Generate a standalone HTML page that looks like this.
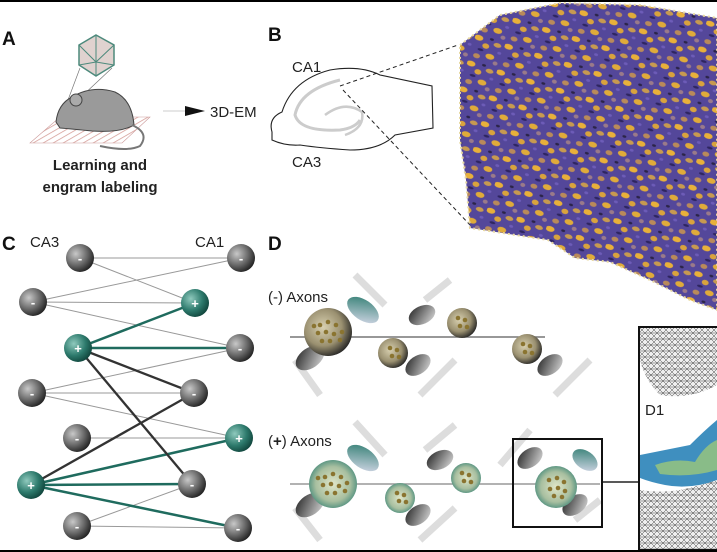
<!DOCTYPE html>
<html><head><meta charset="utf-8"><style>
body{margin:0;background:#fff;}
svg{display:block;font-family:"Liberation Sans",sans-serif;}
</style></head><body>
<svg width="717" height="552" viewBox="0 0 717 552" xmlns="http://www.w3.org/2000/svg">
<defs>
<radialGradient id="gn" cx="35%" cy="35%" r="70%"><stop offset="0" stop-color="#c8c8c8"/><stop offset="0.6" stop-color="#666"/><stop offset="1" stop-color="#222"/></radialGradient>
<radialGradient id="gp" cx="35%" cy="35%" r="70%"><stop offset="0" stop-color="#8fc9bd"/><stop offset="0.6" stop-color="#2d7a6c"/><stop offset="1" stop-color="#11463d"/></radialGradient>
<radialGradient id="bn" cx="40%" cy="40%" r="65%"><stop offset="0" stop-color="#d8d0b0"/><stop offset="0.6" stop-color="#9a9070"/><stop offset="1" stop-color="#222"/></radialGradient>
<radialGradient id="bp" cx="50%" cy="50%" r="60%"><stop offset="0" stop-color="#e0e6c8"/><stop offset="0.6" stop-color="#a8bfa0"/><stop offset="1" stop-color="#2b7c70"/></radialGradient>
<linearGradient id="sp" x1="0" y1="0" x2="1" y2="1"><stop offset="0" stop-color="#222"/><stop offset="1" stop-color="#ddd"/></linearGradient>
<linearGradient id="st" x1="0" y1="0" x2="1" y2="1"><stop offset="0" stop-color="#2a7a6d"/><stop offset="1" stop-color="#dde"/></linearGradient>
<pattern id="vol" width="31" height="27" patternUnits="userSpaceOnUse" patternTransform="rotate(17)">
<rect width="31" height="27" fill="#54479a"/>
<ellipse cx="4" cy="4" rx="4.5" ry="2.8" fill="#e8b03a"/>
<ellipse cx="13" cy="10" rx="3.5" ry="2.6" fill="#d9a33d"/>
<ellipse cx="24" cy="6" rx="4" ry="2.2" fill="#c79a50"/>
<ellipse cx="20" cy="19" rx="4.5" ry="2.8" fill="#e0ab3a"/>
<ellipse cx="7" cy="22" rx="3.5" ry="2.4" fill="#b98a5a"/>
<ellipse cx="9" cy="15" rx="3" ry="1.3" fill="#2e2560"/>
<ellipse cx="27" cy="24" rx="2.5" ry="2" fill="#9a7a8a"/>
<ellipse cx="17" cy="2" rx="2" ry="1.2" fill="#2b2448"/>
<ellipse cx="28" cy="13" rx="2" ry="1.4" fill="#6d5cb8"/>
</pattern>
<pattern id="mesh" width="6" height="6" patternUnits="userSpaceOnUse">
<rect width="6" height="6" fill="#eee"/><path d="M0 0L6 6M6 0L0 6M0 3H6" stroke="#444" stroke-width="0.5"/>
</pattern>
<pattern id="hatch" width="5" height="5" patternUnits="userSpaceOnUse" patternTransform="rotate(60)">
<rect width="5" height="5" fill="#fff"/><line x1="0" y1="0" x2="0" y2="5" stroke="#d49a94" stroke-width="1.5"/>
</pattern>
</defs>
<line x1="0" y1="1" x2="717" y2="1" stroke="#000" stroke-width="2"/>
<line x1="0" y1="551" x2="717" y2="551" stroke="#000" stroke-width="2"/>

<g font-weight="bold" font-size="19" fill="#111">
<text x="2" y="45">A</text><text x="268" y="41">B</text><text x="2" y="250">C</text><text x="268" y="250">D</text>
</g>

<polygon points="96,35 114,45 114,65 96,76 79,65 79,45" fill="#e0d2cf" stroke="#4d8a7c" stroke-width="1.5"/>
<path d="M79,45L96,62L114,45M96,35L96,62M79,65L96,62L114,65M96,76L96,62" stroke="#4d8a7c" stroke-width="1" fill="none"/>
<line x1="80" y1="68" x2="68" y2="100" stroke="#777" stroke-width="0.7"/>
<line x1="112" y1="68" x2="80" y2="98" stroke="#777" stroke-width="0.7"/>
<polygon points="30,143 60,117 150,117 122,143" fill="url(#hatch)" stroke="#c99" stroke-width="0.6"/>
<path d="M56,122 Q58,104 72,97 Q92,85 115,92 Q132,100 134,125 Q120,133 92,131 Q72,129 60,128 Z" fill="#9a9a9a" stroke="#444"/>
<circle cx="76" cy="100" r="6" fill="#aaa" stroke="#444"/>
<path d="M132,125 Q150,133 140,146 Q128,152 100,146" fill="none" stroke="#777" stroke-width="2"/>
<text x="100" y="170" text-anchor="middle" font-size="15" font-weight="bold" fill="#222">Learning and</text>
<text x="100" y="192" text-anchor="middle" font-size="15" font-weight="bold" fill="#222">engram labeling</text>
<polygon points="185,106 205,111 185,116" fill="#111"/>
<line x1="163" y1="111" x2="185" y2="111" stroke="#ccc"/>
<text x="210" y="117" font-size="15" fill="#222">3D-EM</text>

<path d="M272,132 Q268,118 282,112 Q292,80 330,70 Q360,65 380,75 L432,86 L433,128 L395,135 Q380,150 350,150 Q320,148 300,145 Q285,146 272,140 Z" fill="#fff" stroke="#222" stroke-width="1.1"/>
<path d="M340,80 Q300,90 295,115 Q300,132 340,130 Q355,128 360,120" fill="none" stroke="#ccc" stroke-width="3"/>
<path d="M325,115 Q345,100 362,112 Q365,128 345,135" fill="none" stroke="#ccc" stroke-width="2.5"/>
<text x="292" y="72" font-size="15" fill="#222">CA1</text>
<text x="292" y="167" font-size="15" fill="#222">CA3</text>
<line x1="340" y1="86" x2="458" y2="45" stroke="#222" stroke-dasharray="4,3"/>
<line x1="343" y1="90" x2="470" y2="225" stroke="#222" stroke-dasharray="4,3"/>
<polygon points="460,45 500,15 560,3 640,5 717,18 717,310 690,300 650,280 610,262 575,258 548,240 470,228 466,180 460,140" fill="url(#vol)" stroke="#e8d9a0" stroke-width="2" stroke-dasharray="2,3"/>

<text x="30" y="247" font-size="15" fill="#222">CA3</text>
<text x="195" y="247" font-size="15" fill="#222">CA1</text>
<g stroke="#999" stroke-width="1">
<line x1="80" y1="258" x2="241" y2="258"/><line x1="80" y1="258" x2="195" y2="303"/>
<line x1="33" y1="302" x2="241" y2="258"/><line x1="33" y1="302" x2="195" y2="303"/><line x1="33" y1="302" x2="240" y2="348"/>
<line x1="32" y1="393" x2="240" y2="348"/><line x1="32" y1="393" x2="194" y2="393"/><line x1="32" y1="393" x2="239" y2="438"/>
<line x1="77" y1="438" x2="239" y2="438"/>
<line x1="77" y1="526" x2="192" y2="484"/><line x1="77" y1="526" x2="238" y2="528"/>
</g>
<g stroke="#1f6b5e" stroke-width="2.5">
<line x1="78" y1="348" x2="195" y2="303"/><line x1="78" y1="348" x2="240" y2="348"/>
<line x1="31" y1="485" x2="239" y2="438"/><line x1="31" y1="485" x2="192" y2="484"/><line x1="31" y1="485" x2="238" y2="528"/>
</g>
<g stroke="#333" stroke-width="2.3">
<line x1="78" y1="348" x2="194" y2="393"/><line x1="78" y1="348" x2="192" y2="484"/><line x1="31" y1="485" x2="194" y2="393"/>
</g>
<g font-size="13" font-weight="bold" fill="#fff" text-anchor="middle">
<circle cx="80" cy="258" r="14" fill="url(#gn)"/><text x="80" y="263">-</text>
<circle cx="33" cy="302" r="14" fill="url(#gn)"/><text x="33" y="307">-</text>
<circle cx="78" cy="348" r="14" fill="url(#gp)"/><text x="78" y="353">+</text>
<circle cx="32" cy="393" r="14" fill="url(#gn)"/><text x="32" y="398">-</text>
<circle cx="77" cy="438" r="14" fill="url(#gn)"/><text x="77" y="443">-</text>
<circle cx="31" cy="485" r="14" fill="url(#gp)"/><text x="31" y="490">+</text>
<circle cx="77" cy="526" r="14" fill="url(#gn)"/><text x="77" y="531">-</text>
<circle cx="241" cy="258" r="14" fill="url(#gn)"/><text x="241" y="263">-</text>
<circle cx="195" cy="303" r="14" fill="url(#gp)"/><text x="195" y="308">+</text>
<circle cx="240" cy="348" r="14" fill="url(#gn)"/><text x="240" y="353">-</text>
<circle cx="194" cy="393" r="14" fill="url(#gn)"/><text x="194" y="398">-</text>
<circle cx="239" cy="438" r="14" fill="url(#gp)"/><text x="239" y="443">+</text>
<circle cx="192" cy="484" r="14" fill="url(#gn)"/><text x="192" y="489">-</text>
<circle cx="238" cy="528" r="14" fill="url(#gn)"/><text x="238" y="533">-</text>
</g>

<text x="268" y="302" font-size="15" fill="#222">(-) Axons</text>
<text x="268" y="446" font-size="15" fill="#222">(<tspan font-weight="bold">+</tspan>) Axons</text>
<g stroke="#ddd" stroke-width="7" stroke-linecap="butt">
<line x1="355" y1="275" x2="385" y2="305"/><line x1="295" y1="360" x2="320" y2="395"/><line x1="425" y1="300" x2="450" y2="280"/>
<line x1="420" y1="395" x2="455" y2="360"/><line x1="555" y1="395" x2="590" y2="360"/>
<line x1="355" y1="422" x2="385" y2="455"/><line x1="295" y1="508" x2="320" y2="540"/><line x1="425" y1="450" x2="455" y2="425"/>
<line x1="420" y1="540" x2="455" y2="508"/><line x1="500" y1="465" x2="530" y2="430"/><line x1="575" y1="520" x2="600" y2="500"/>
</g>
<line x1="290" y1="337" x2="545" y2="337" stroke="#777" stroke-width="1.5"/>
<line x1="290" y1="484" x2="600" y2="484" stroke="#999" stroke-width="1.5"/>
<line x1="602" y1="482" x2="639" y2="482" stroke="#222" stroke-width="1.5"/>
<g>
<ellipse cx="363" cy="310" rx="18" ry="10" transform="rotate(35 363 310)" fill="url(#st)"/>
<ellipse cx="310" cy="358" rx="16" ry="10" transform="rotate(-35 310 358)" fill="url(#sp)"/>
<ellipse cx="422" cy="315" rx="14" ry="9" transform="rotate(-25 422 315)" fill="url(#sp)"/>
<ellipse cx="418" cy="365" rx="14" ry="9" transform="rotate(-35 418 365)" fill="url(#sp)"/>
<ellipse cx="550" cy="365" rx="14" ry="9" transform="rotate(-35 550 365)" fill="url(#sp)"/>
<circle cx="328" cy="332" r="24" fill="url(#bn)"/>
<circle cx="393" cy="353" r="15" fill="url(#bn)"/>
<circle cx="462" cy="323" r="15" fill="url(#bn)"/>
<circle cx="527" cy="349" r="15" fill="url(#bn)"/>
<ellipse cx="363" cy="458" rx="18" ry="10" transform="rotate(35 363 458)" fill="url(#st)"/>
<ellipse cx="310" cy="505" rx="16" ry="10" transform="rotate(-35 310 505)" fill="url(#sp)"/>
<ellipse cx="440" cy="460" rx="14" ry="9" transform="rotate(-25 440 460)" fill="url(#sp)"/>
<ellipse cx="418" cy="515" rx="14" ry="9" transform="rotate(-35 418 515)" fill="url(#sp)"/>
<ellipse cx="530" cy="458" rx="14" ry="9" transform="rotate(-35 530 458)" fill="url(#sp)"/>
<ellipse cx="585" cy="460" rx="14" ry="9" transform="rotate(35 585 460)" fill="url(#st)"/>
<ellipse cx="575" cy="505" rx="14" ry="9" transform="rotate(-35 575 505)" fill="url(#sp)"/>
<circle cx="333" cy="484" r="24" fill="url(#bp)"/>
<circle cx="400" cy="498" r="15" fill="url(#bp)"/>
<circle cx="466" cy="478" r="15" fill="url(#bp)"/>
<circle cx="556" cy="487" r="21" fill="url(#bp)"/>
</g>
<g fill="#8a7430">
<circle cx="320" cy="325" r="2.3"/><circle cx="328" cy="322" r="2.3"/><circle cx="336" cy="325" r="2.3"/><circle cx="318" cy="333" r="2.3"/><circle cx="326" cy="332" r="2.3"/><circle cx="334" cy="334" r="2.3"/><circle cx="322" cy="341" r="2.3"/><circle cx="330" cy="341" r="2.3"/><circle cx="340" cy="340" r="2.3"/><circle cx="342" cy="332" r="2.3"/><circle cx="314" cy="326" r="2.3"/>
<circle cx="390" cy="348" r="2.3"/><circle cx="397" cy="350" r="2.3"/><circle cx="392" cy="356" r="2.3"/><circle cx="399" cy="357" r="2.3"/>
<circle cx="458" cy="318" r="2.3"/><circle cx="465" cy="320" r="2.3"/><circle cx="460" cy="326" r="2.3"/><circle cx="467" cy="327" r="2.3"/>
<circle cx="523" cy="344" r="2.3"/><circle cx="530" cy="346" r="2.3"/><circle cx="525" cy="352" r="2.3"/><circle cx="532" cy="353" r="2.3"/>
<circle cx="325" cy="477" r="2.3"/><circle cx="333" cy="474" r="2.3"/><circle cx="341" cy="477" r="2.3"/><circle cx="323" cy="485" r="2.3"/><circle cx="331" cy="484" r="2.3"/><circle cx="339" cy="486" r="2.3"/><circle cx="327" cy="493" r="2.3"/><circle cx="335" cy="493" r="2.3"/><circle cx="345" cy="491" r="2.3"/><circle cx="347" cy="483" r="2.3"/><circle cx="318" cy="478" r="2.3"/>
<circle cx="397" cy="493" r="2.3"/><circle cx="404" cy="495" r="2.3"/><circle cx="399" cy="501" r="2.3"/><circle cx="406" cy="502" r="2.3"/>
<circle cx="462" cy="473" r="2.3"/><circle cx="469" cy="475" r="2.3"/><circle cx="464" cy="481" r="2.3"/><circle cx="471" cy="482" r="2.3"/>
<circle cx="549" cy="480" r="2.3"/><circle cx="557" cy="478" r="2.3"/><circle cx="564" cy="482" r="2.3"/><circle cx="550" cy="489" r="2.3"/><circle cx="558" cy="488" r="2.3"/><circle cx="565" cy="491" r="2.3"/><circle cx="554" cy="496" r="2.3"/><circle cx="562" cy="497" r="2.3"/>
</g>
<rect x="513" y="439" width="89" height="88" fill="none" stroke="#111" stroke-width="2"/>
<rect x="639" y="327" width="80" height="222" fill="#fff" stroke="#111" stroke-width="2"/>
<path d="M640,328 L717,328 L717,385 Q690,400 660,395 Q645,380 640,360 Z" fill="url(#mesh)"/>
<path d="M640,490 Q670,495 700,485 L717,480 L717,549 L640,549 Z" fill="url(#mesh)"/>
<path d="M640,455 Q665,450 690,445 Q705,430 717,420 L717,480 Q690,490 665,485 Q650,482 640,478 Z" fill="#3f8fbf"/>
<path d="M655,465 Q675,458 695,462 Q705,445 717,440 L717,470 Q690,478 660,474 Z" fill="#9cc77a" opacity="0.8"/>
<text x="645" y="415" font-size="15" fill="#222">D1</text>
</svg>
</body></html>
